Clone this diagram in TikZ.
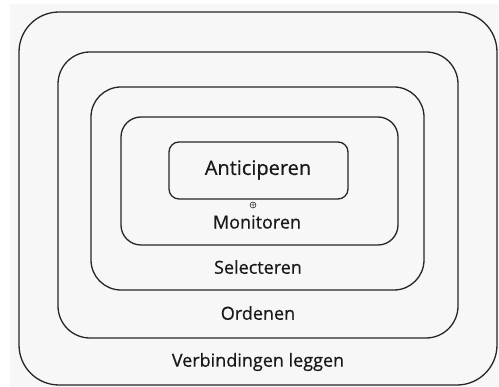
\documentclass[tikz,border=0pt]{standalone}
\usepackage{fontspec}
\setmainfont{Open Sans}
\newfontfamily\ringfont{Open Sans}[FakeBold=0.6]
\begin{document}
\begin{tikzpicture}[x=1pt, y=-1pt,
        box/.style={draw=black!85, line width=1.3pt},
        lbl/.style={font=\ringfont\fontsize{18}{21}\selectfont, text=black!90}]
        % canvas
        \useasboundingbox (0,0) rectangle (499,387);
        \path [fill=black!3] (10,4) rectangle (499,387);

        % rings, outside in
        \draw [box, rounded corners=40pt] (19,12) rectangle (497,385);
        \draw [box, rounded corners=32pt] (58,52) rectangle (458,338);
        \draw [box, rounded corners=30pt] (91,87) rectangle (424,290);
        \draw [box, rounded corners=20pt] (121,117) rectangle (398,245);
        \draw [box, rounded corners=10pt] (169,142) rectangle (348,199);

        % labels
        \node [lbl, font=\ringfont\fontsize{20}{23}\selectfont] (antic) at (258,170) {Anticiperen};
        \node [lbl] (monit) at (257,222) {Monitoren};
        \node [lbl] (selec) at (258,267) {Selecteren};
        \node [lbl] (orden) at (258,313) {Ordenen};
        \node [lbl] (verb) at (258,362) {Verbindingen leggen};

        % marker
        \draw [black!80, line width=0.5pt] (253,205) circle [radius=3pt]
            (250,205) -- (256,205) (253,202) -- (253,208);
    \end{tikzpicture}
\end{document}
